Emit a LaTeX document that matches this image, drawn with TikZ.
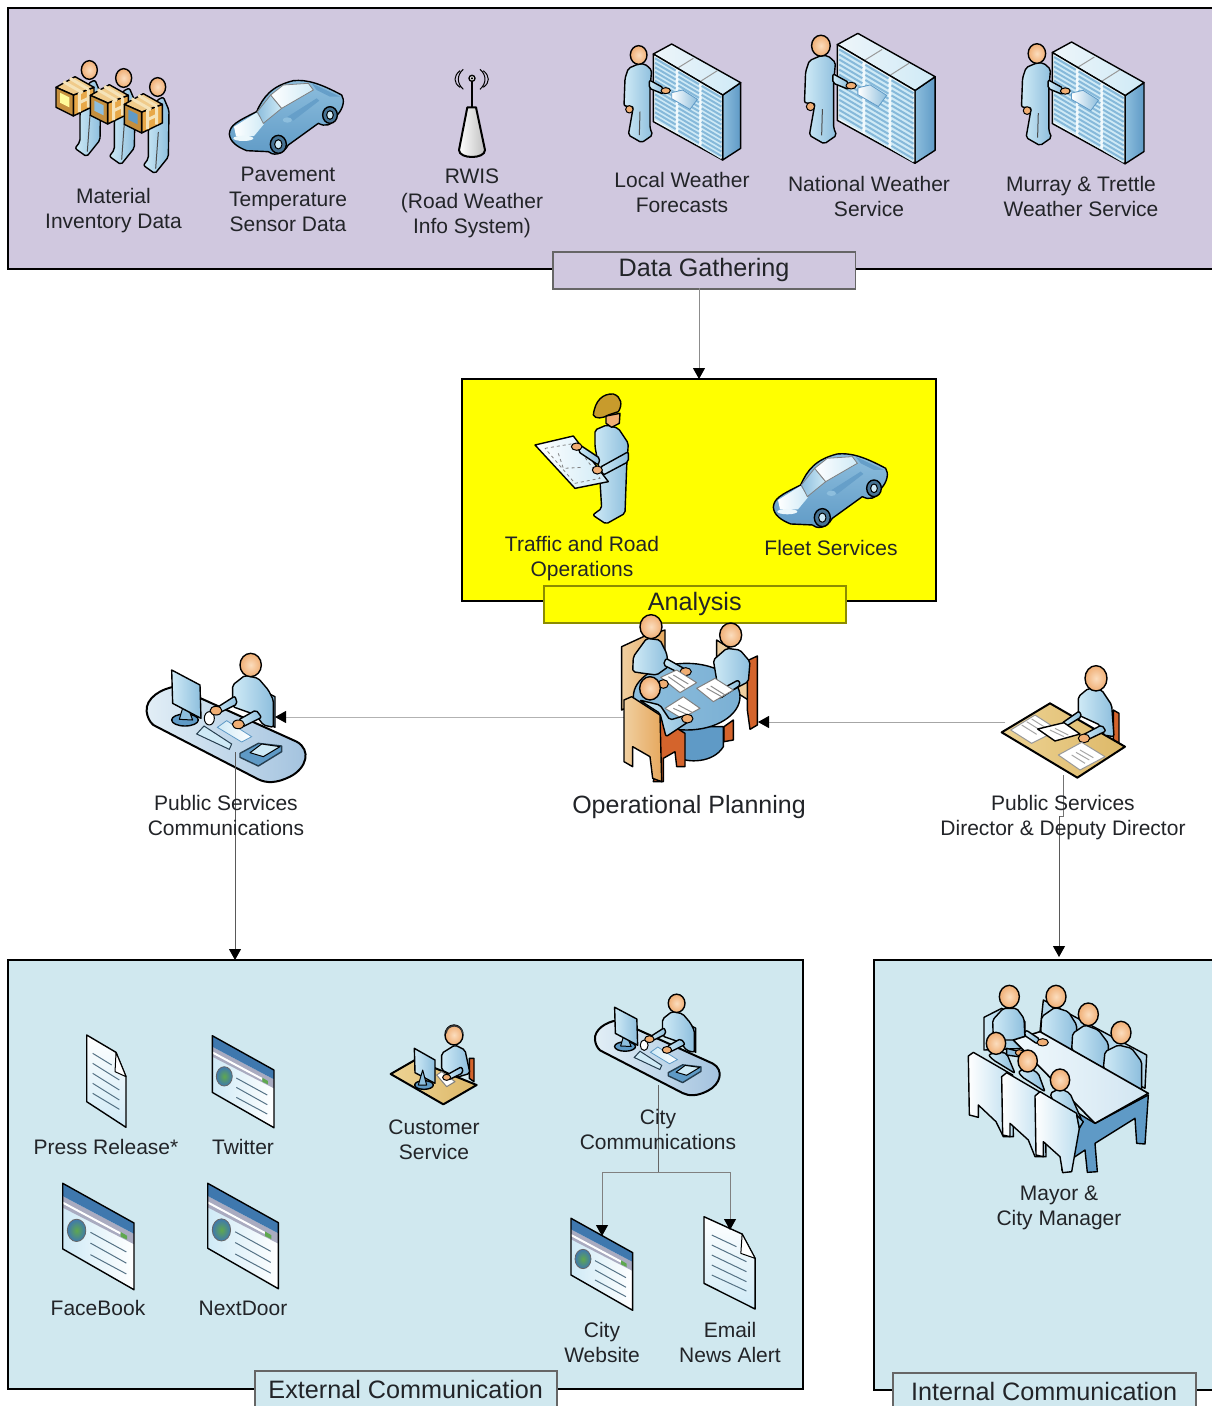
\documentclass[tikz,border=0pt]{standalone}
\usepackage{fontspec}
\setmainfont{Liberation Sans}
\usetikzlibrary{arrows.meta,calc}
\definecolor{txt}{HTML}{222428}
\definecolor{purp}{HTML}{D0C8DF}
\definecolor{skyb}{HTML}{D0E8EF}
\definecolor{yelw}{RGB}{255,255,0}
\definecolor{bdk}{HTML}{5F9AC6}
\definecolor{bmid}{HTML}{8DBEDD}
\definecolor{blt}{HTML}{CFEAF6}
\definecolor{skin}{HTML}{F0AE74}
\definecolor{skinl}{HTML}{FBDDBE}
\definecolor{orgd}{HTML}{D4642C}
\definecolor{orgl}{HTML}{F0CFA0}
\definecolor{orgm}{HTML}{E6A85E}
\definecolor{boxo}{HTML}{E8A848}
\definecolor{tape}{HTML}{F5E3B8}
\definecolor{woodl}{HTML}{EDD394}
\definecolor{woodr}{HTML}{DDB868}
\definecolor{webt}{HTML}{3F78AE}
\definecolor{webg}{HTML}{A9ABC0}
\definecolor{webb}{HTML}{5FA84E}
\definecolor{hardhat}{HTML}{C89B2C}
\tikzset{
 ic/.style={draw=black,line width=1.4pt,line join=round},
 thin ic/.style={draw=black,line width=1pt,line join=round},
 body/.style={ic,left color=blt,right color=bmid,rounded corners=2pt},
 head/.style={ic,inner color=skinl,outer color=skin},
 hand/.style={thin ic,fill=skin},
 frame/.style={draw=black,line width=2.4pt},
 tabbox/.style={draw=#1,line width=1.5pt,anchor=north west,inner sep=0pt,font=\fontsize{25.2}{30}\selectfont,text=txt},
 lbl/.style={font=\fontsize{21}{25}\selectfont,align=center,text=txt,inner sep=0pt},
 conn/.style={draw=#1,line width=1pt,-{Triangle[width=12pt,length=11pt,color=black]}},
 plain/.style={draw=#1,line width=1pt},
}
% ---------- server rack + person (coordinates: crop units)
\newcommand{\RackPerson}[3]{\begin{scope}[shift={(#1,#2)},scale=#3/3]
 \path[ic,left color=bmid,right color=bdk] (368,225)--(422,188)--(422,385)--(368,420)--cycle;
 \path[ic,left color=white!85!bmid,right color=blt] (160,102)--(215,72)--(422,188)--(368,225)--cycle;
 \draw[line width=1pt,draw=black!40] (230,146)--(280,115) (300,185)--(352,152);
 \path[ic,fill=white!70!blt] (160,102)--(368,225)--(368,420)--(160,305)--cycle;
 \foreach \a/\b in {165/227,235/297,305/364}{
  \pgfmathsetmacro{\ta}{102+.591*(\a-160)+5}
  \pgfmathsetmacro{\tb}{102+.591*(\b-160)+5}
  \fill[blt] (\a,\ta)--(\b,\tb)--(\b,\tb+190)--(\a,\ta+190)--cycle;
  \foreach \i in {0,...,13}{
   \draw[bmid!85!bdk,line width=2pt] (\a,\ta+\i*13.5+5)--(\b,\tb+\i*13.5+5);
  }
 }
 \path[line width=.8pt,draw=bdk,left color=white,right color=bmid] (215,218)--(248,210)--(292,238)--(270,268)--(215,236)--cycle;
 \path[body] (115,132)--(85,145)--(75,175)--(72,258)--(100,260)--(85,345)--(125,368)--(158,345)--(150,325)--(150,205)--(155,150)--(135,132)--cycle;
 \draw[black!70,line width=1pt] (120,275)--(118,345);
 \path[body] (148,180)--(190,203)--(190,222)--(148,205)--cycle;
 \path[hand] (197,212) ellipse (14 and 9);
 \path[hand] (88,268) ellipse (11 and 11);
 \path[head] (116,105) ellipse (25 and 28);
\end{scope}}
% ---------- person with box
\newcommand{\BoxPerson}[4]{\begin{scope}[shift={(#1,#2)},scale=1/3]
 \path[body] (#3+195,150)--(#3+212,190)--(#3+210,330)--(#3+170,380)--(#3+135,355)--(#3+150,335)--(#3+150,250)--(#3+175,160)--cycle;
 \draw[black!70,line width=1pt] (#3+180,255)--(#3+172,365);
 \path[head] (#3+178,120) ellipse (24 and 28);
 \path[ic,fill=boxo] (#3+130,195)--(#3+192,172)--(#3+192,228)--(#3+130,258)--cycle;
 \path[ic,fill=tape!60!boxo] (#3+78,172)--(#3+135,140)--(#3+192,172)--(#3+130,195)--cycle;
 \path[ic,fill=boxo!85!black] (#3+78,172)--(#3+130,195)--(#3+130,258)--(#3+78,232)--cycle;
 \fill[#4] (#3+90,188)--(#3+118,202)--(#3+118,232)--(#3+90,218)--cycle;
 \draw[tape,line width=3pt] (#3+148,188)--(#3+148,246) (#3+175,178)--(#3+175,232) (#3+148,218)--(#3+175,205) (#3+100,155)--(#3+158,188) (#3+120,145)--(#3+175,178);
\end{scope}}
% ---------- car
\newcommand{\CarIcon}[2]{\begin{scope}[shift={(#1,#2)},scale=1/3]
 \path[ic,top color=bmid,bottom color=bdk] (598,312) .. controls (600,285) and (620,275) .. (680,245) .. controls (700,200) and (725,168) .. (790,152) .. controls (830,148) and (870,160) .. (935,195) .. controls (945,210) and (940,235) .. (922,255) .. controls (905,290) and (885,290) .. (865,280) -- (775,345) .. controls (755,380) and (725,375) .. (715,365) -- (650,362) .. controls (620,350) and (600,335) .. (598,312) --cycle;
 \path[left color=white,right color=blt] (612,290)--(680,248)--(702,282)--(672,318)--(618,318)--cycle;
 \path[draw=black!50,line width=.8pt,left color=bmid,right color=blt] (682,245)--(722,195)--(755,235)--(700,280)--cycle;
 \path[draw=black!50,line width=.8pt,left color=white,right color=blt] (722,195)--(760,165)--(835,160)--(850,180)--(755,235)--cycle;
 \path[fill=bdk!85!bmid] (770,262)--(860,205)--(868,212)--(790,272)--cycle;
 \path[fill=bdk!85!bmid] (845,160)--(930,200)--(900,200)--(860,180)--cycle;
 \fill[white!60!blt] (640,325) ellipse (30 and 8);
 \path[fill=bmid] (772,270) ellipse (14 and 8);
 \path[ic,fill=black!25!bdk] (745,343) ellipse (24 and 27);
 \path[thin ic,fill=blt] (745,343) ellipse (11 and 14);
 \path[ic,fill=black!25!bdk] (900,255) ellipse (22 and 25);
 \path[thin ic,fill=blt] (900,255) ellipse (10 and 13);
\end{scope}}
% ---------- web page
\newcommand{\WebIcon}[3]{\begin{scope}[shift={(#1,#2)},scale=#3/3]
 \path[left color=blt,right color=white] (0,0)--(185,103)--(185,276)--(0,170)--cycle;
 \fill[webg] (0,33)--(185,131)--(185,158)--(0,63)--cycle;
 \fill[webt] (0,0)--(185,103)--(185,131)--(0,33)--cycle;
 \draw[white,line width=2pt] (0,50)--(150,130);
 \fill[webb] (150,126)--(167,136)--(167,146)--(150,138)--cycle;
 \path[draw=black!60,line width=.8pt,inner color=webb,outer color=webt] (36,122) ellipse (24 and 29);
 \draw[black!40!bmid,line width=1pt] (72,127)--(165,178) (72,155)--(165,207) (72,185)--(165,235);
 \path[ic] (0,0)--(185,103)--(185,276)--(0,170)--cycle;
\end{scope}}
% ---------- document
\newcommand{\DocIcon}[3]{\begin{scope}[shift={(#1,#2)},xscale=#3/3,yscale=1/3]
 \path[ic,top color=white,bottom color=blt] (0,0)--(88,52)--(118,125)--(118,277)--(0,200)--cycle;
 \path[thin ic,fill=white] (88,52)--(85,110)--(118,125)--cycle;
 \draw[black!40!bmid,line width=1pt] (18,55)--(75,90) (18,85)--(98,135) (18,115)--(98,165) (18,145)--(98,195) (18,175)--(98,223);
\end{scope}}
% ---------- capsule desk
\newcommand{\DeskIcon}[3]{\begin{scope}[shift={(#1,#2)},scale=#3/3]
 \path[ic,line width=2pt,left color=white!75!bmid,right color=bmid!70!purp] (50,215) .. controls (45,175) and (95,145) .. (135,140) -- (500,305) .. controls (545,330) and (530,385) .. (480,410) .. controls (440,430) and (410,430) .. (385,418) -- (70,255) .. controls (58,245) and (52,230) .. (50,215) --cycle;
 \path[ic,fill=bmid] (415,160)--(435,170)--(435,262)--(415,250)--cycle;
 \path[ic,fill=bdk] (165,240) ellipse (40 and 18);
 \path[thin ic,fill=bmid] (148,238)--(165,180)--(188,240)--cycle;
 \path[ic,left color=blt,right color=bmid] (125,90)--(210,135)--(213,235)--(128,190)--cycle;
 \path[thin ic,fill=white] (238,235) ellipse (15 and 20);
 \path[body] (308,135)--(345,106)--(385,115)--(415,150)--(430,180)--(430,262)--(400,255)--(378,225)--(308,200)--cycle;
 \path[body] (315,168)--(265,200)--(255,225)--(322,192)--cycle;
 \path[body] (378,210)--(325,240)--(335,262)--(395,232)--cycle;
 \path[hand] (258,212) ellipse (18 and 13);
 \path[head] (362,75) ellipse (32 and 35);
 \path[line width=.8pt,draw=bdk,left color=blt,right color=white] (262,262)--(290,242)--(365,290)--(335,306)--cycle;
 \path[hand] (325,253) ellipse (18 and 13);
 \path[line width=1pt,draw=bdk!40!black,fill=blt] (200,282)--(222,258)--(305,312)--(298,328)--cycle;
 \path[ic,draw=bdk!40!black,fill=bdk] (330,340)--(385,310)--(455,318)--(455,335)--(385,378)--(330,352)--cycle;
 \path[thin ic,fill=blt] (360,338)--(395,312)--(450,320)--(400,350)--cycle;
\end{scope}}
\begin{document}
\begin{tikzpicture}[x=1pt,y=-1pt]
\useasboundingbox (0,0) rectangle (1212,1406);
\fill[white] (0,0) rectangle (1212,1406);
% --- panels
\path[frame,fill=purp] (1230,8) -- (8,8) -- (8,269) -- (1230,269);
\path[frame,fill=yelw] (462,379) rectangle (936,601);
\coordinate (yelN) at (699,379);
\path[frame,fill=skyb] (8,960) rectangle (803,1389);
\path[frame,fill=skyb] (1230,960) -- (874,960) -- (874,1390) -- (1230,1390);
% --- tabs
\node[tabbox=black!60,fill=purp,minimum width=302.5pt,minimum height=37pt] (dg) at (552,251) {\raisebox{-3pt}{Data Gathering}};
\node[tabbox=black!45!yelw,fill=yelw,minimum width=302pt,minimum height=37pt] (an) at (543,585) {\raisebox{2pt}{Analysis}};
\node[tabbox=black!60,fill=skyb,minimum width=302pt,minimum height=50pt] (ext) at (254,1370) {\raisebox{13pt}{External Communication}};
\node[tabbox=black!60,fill=skyb,minimum width=303pt,minimum height=50pt] (int) at (892,1372) {\raisebox{13pt}{Internal Communication}};
% --- anchor coordinates for connectors
\coordinate (dgOut) at (699,288);
\coordinate (meetL) at (624,717);
\coordinate (commR) at (275,717);
\coordinate (dirL) at (1005,722);
\coordinate (meetR) at (758,722);
\coordinate (commD) at (235,752);
\coordinate (extIn) at (235,960);
\coordinate (dirD) at (1063,775);
\coordinate (dirJ) at (1059,816);
\coordinate (intIn) at (1059,957);
\coordinate (cityD) at (658,1085);
\coordinate (cityJ) at (658,1172);
\coordinate (webIn) at (602,1236);
\coordinate (mailIn) at (730,1230);
% --- connectors under icons
\draw[conn=black!45] (dgOut) -- (yelN);
\draw[conn=black!30] (meetL) -- (commR);
\draw[conn=black!35] (dirL) -- (meetR);
% --- icons: top row
\BoxPerson{30}{30}{0}{yellow!40!white}
\BoxPerson{30}{38}{103}{bmid}
\BoxPerson{30}{47}{205}{bdk}
\CarIcon{30}{30}
\begin{scope}[shift={(30,30)},scale=1/3]
 \draw[ic,line width=1pt] (1300,118) .. controls (1280,135) and (1280,160) .. (1300,178) (1290,122) .. controls (1270,138) and (1270,158) .. (1290,172);
 \draw[ic,line width=1pt] (1350,118) .. controls (1370,135) and (1370,160) .. (1350,178) (1360,122) .. controls (1380,138) and (1380,158) .. (1360,172);
 \draw[ic,line width=2pt] (1326,145)--(1326,235);
 \path[ic,fill=white] (1326,145) circle (9);
 \fill[black] (1326,145) circle (4);
 \path[ic,line width=2pt,left color=white,right color=black!25] (1312,232)--(1338,232)--(1365,360) .. controls (1365,388) and (1287,388) .. (1287,360) --cycle;
\end{scope}
\RackPerson{600}{20}{1}
\RackPerson{777.6}{6.5}{1.12}
\RackPerson{996.3}{16.8}{1.05}
% --- engineer
\begin{scope}[shift={(500,380)},scale=1/3]
 \path[body] (285,150)--(320,135)--(355,145)--(385,190)--(380,260)--(375,400)--(318,432)--(278,405)--(305,385)--(298,270)--(285,200)--cycle;
 \path[ic,left color=white,right color=blt] (105,195)--(220,168)--(325,305)--(225,325)--cycle;
 \draw[black!50,line width=.8pt,dashed] (135,205)--(225,190)--(300,295)--(225,310)--cycle (175,220)--(190,265)--(250,262);
 \path[body] (240,195)--(300,235)--(295,255)--(235,215)--cycle;
 \path[body] (300,262)--(385,215)--(385,245)--(310,285)--cycle;
 \path[hand] (230,200) ellipse (16 and 11);
 \path[hand] (292,270) ellipse (15 and 12);
 \path[ic,fill=skin] (318,108)--(360,100)--(358,130)--(335,142)--(318,130)--cycle;
 \path[ic,fill=hardhat] (280,105) .. controls (285,60) and (310,40) .. (340,42) .. controls (365,50) and (368,75) .. (355,95) -- (325,105) .. controls (310,115) and (285,118) .. (280,105) --cycle;
\end{scope}
\CarIcon{574}{403.3}
% --- round table meeting
\begin{scope}[shift={(500,380)},scale=1/3]
 \path[ic,left color=orgl,right color=orgm] (365,800)--(430,770)--(495,750)--(495,880)--(430,960)--(365,990)--cycle;
 \path[ic,fill=orgl] (650,780)--(745,840)--(745,960)--(650,900)--cycle;
 \path[ic,fill=orgd] (742,842)--(772,828)--(772,1035)--(750,1048)--(742,990)--cycle;
 \path[ic,fill=orgd] (672,1040)--(700,1020)--(700,1080)--(672,1085)--cycle;
 \path[ic,fill=bdk] (500,1040)--(670,1040)--(670,1100) .. controls (640,1150) and (560,1150) .. (530,1130) --cycle;
 \path[ic,left color=bmid,right color=bmid!60!bdk] (560,950) ellipse (160 and 100);
 \path[body] (400,830)--(440,775)--(480,780)--(500,820)--(505,860)--(470,885)--(430,880)--(398,875)--cycle;
 \path[body] (498,835)--(560,870)--(550,885)--(490,855)--cycle;
 \path[hand] (557,875) ellipse (17 and 12);
 \path[head] (453,740) ellipse (33 and 36);
 \path[body] (640,840)--(680,805)--(720,810)--(750,845)--(745,905)--(660,950)--(650,900)--cycle;
 \path[body] (650,935)--(715,900)--(722,915)--(660,955)--cycle;
 \path[hand] (655,942) ellipse (17 and 13);
 \path[head] (692,765) ellipse (33 and 36);
 \path[thin ic,draw=black!50,fill=white] (482,892)--(530,870)--(590,908)--(540,938)--cycle;
 \path[thin ic,draw=black!50,fill=white] (590,925)--(645,895)--(700,930)--(640,965)--cycle;
 \path[thin ic,draw=black!50,fill=white] (495,985)--(550,950)--(600,985)--(545,1015)--cycle;
 \draw[black!45,line width=1pt] (505,890)--(555,925) (520,885)--(565,912) (620,925)--(665,950) (632,918)--(675,945) (520,985)--(565,1005) (535,975)--(578,998);
 \path[ic,fill=orgd] (478,1012)--(555,1060)--(555,1160)--(530,1160)--(525,1115)--(490,1135)--(490,1205)--(460,1205)--(478,1100)--cycle;
 \path[ic,left color=orgl,right color=orgm] (372,960)--(395,950)--(480,1005)--(485,1205)--(458,1195)--(450,1130)--(398,1100)--(398,1160)--(372,1145)--cycle;
 \path[body] (418,960)--(480,975)--(510,1020)--(560,1005)--(570,1022)--(498,1070)--(480,1000)--cycle;
 \path[hand] (562,1016) ellipse (17 and 13);
 \path[hand] (490,912) ellipse (15 and 13);
 \path[head] (450,925) ellipse (31 and 35);
\end{scope}
% --- comm desk
\DeskIcon{130}{640}{1}
% --- director desk
\begin{scope}[shift={(990,655)},scale=1/3]
 \path[ic,fill=orgd] (370,165)--(387,175)--(387,265)--(370,255)--cycle;
 \path[ic,line width=2pt,left color=woodl,right color=woodr] (35,232)--(180,145)--(405,275)--(262,368)--cycle;
 \path[thin ic,draw=black!40,fill=white] (62,225)--(135,180)--(205,225)--(125,265)--cycle;
 \draw[black!35,line width=1pt] (95,210)--(140,238) (110,200)--(155,228) (125,192)--(170,220);
 \path[body] (265,125)--(295,100)--(335,105)--(365,150)--(372,245)--(340,240)--(330,210)--(265,180)--cycle;
 \path[body] (268,168)--(215,205)--(222,218)--(275,185)--cycle;
 \path[ic,fill=white] (143,222)--(222,203)--(270,237)--(195,258)--cycle;
 \draw[black!35,line width=1pt] (180,225)--(222,245) (195,220)--(235,240);
 \path[body] (335,210)--(278,240)--(285,258)--(348,228)--cycle;
 \path[hand] (282,250) ellipse (17 and 13);
 \path[head] (318,70) ellipse (33 and 38);
 \path[thin ic,draw=black!40,fill=white] (205,300)--(275,262)--(345,305)--(270,345)--cycle;
 \draw[black!35,line width=1pt] (245,300)--(285,325) (258,292)--(298,315) (270,285)--(310,308);
\end{scope}
% --- external panel icons
\DocIcon{86.7}{1035}{1}
\WebIcon{212.3}{1035.7}{1}
\WebIcon{62.7}{1183.3}{1.157}
\WebIcon{207.7}{1183.3}{1.146}
% customer service
\begin{scope}[shift={(380,990)},scale=1/3]
 \path[ic,fill=orgd] (268,205)--(282,205)--(282,275)--(268,265)--cycle;
 \path[ic,line width=2pt,left color=woodl,right color=woodr] (32,252)--(105,210)--(290,285)--(190,343)--cycle;
 \path[body] (185,190)--(225,165)--(255,180)--(270,250)--(230,262)--(185,240)--cycle;
 \path[head] (222,135) ellipse (27 and 30);
 \draw[black!80,line width=1.6pt] (198,130) .. controls (200,100) and (245,100) .. (248,130);
 \path[thin ic,draw=black!50,fill=white] (170,255)--(185,245)--(225,275)--(200,290)--cycle;
 \path[body] (245,230)--(200,255)--(205,270)--(250,248)--cycle;
 \path[hand] (200,262) ellipse (12 and 9);
 \path[ic,fill=bdk] (132,285) ellipse (28 and 13);
 \path[ic,left color=blt,right color=bmid] (103,175)--(165,210)--(165,280)--(105,248)--cycle;
 \path[thin ic,fill=bmid] (115,285)--(128,240)--(140,285)--cycle;
\end{scope}
\DeskIcon{581.9}{983.7}{.785}
\WebIcon{571}{1218.3}{1}
\DocIcon{704}{1216.7}{1.3}
% --- mayor conference
\begin{scope}[shift={(960,980)},scale=1/3]
 \path[ic,fill=blt!60!bmid] (250,60)--(560,225)--(555,325)--(240,155)--cycle;
 \path[ic,left color=blt,right color=bmid] (72,112)--(125,85)--(195,125)--(195,205)--(72,210)--cycle;
 \path[body] (98,120)--(130,85)--(170,85)--(192,115)--(195,180)--(100,180)--cycle;
 \path[head] (148,50) ellipse (30 and 34);
 \path[body] (242,160)--(245,110)--(285,82)--(325,95)--(350,135)--(350,235)--cycle;
 \path[head] (288,50) ellipse (30 and 34);
 \path[body] (335,210)--(338,160)--(375,135)--(415,150)--(445,190)--(445,290)--cycle;
 \path[head] (385,103) ellipse (30 and 34);
 \path[body] (430,265)--(435,215)--(475,195)--(515,205)--(545,245)--(545,340)--cycle;
 \path[head] (483,158) ellipse (30 and 34);
 \path[ic,fill=bdk] (355,400)--(405,430)--(565,345)--(555,492)--(530,490)--(525,415)--(405,490)--(412,575)--(382,577)--(375,510)--(330,540)--(330,575)--(305,570)--cycle;
 \path[ic,line width=1.6pt,left color=white!70!blt,right color=bmid!40!white] (160,180)--(240,155)--(565,340)--(405,430)--cycle;
 \path[body] (198,150)--(240,178)--(232,192)--(192,165)--cycle;
 \path[hand] (248,187) ellipse (17 and 11);
 \path[body] (85,225)--(110,215)--(140,220)--(165,280)--(100,240)--cycle;
 \path[head] (108,190) ellipse (29 and 33);
 \path[ic,fill=bmid] (140,205)--(180,215)--(175,230)--(140,225)--cycle;
 \path[hand] (178,218) ellipse (12 and 9);
 \path[ic,left color=white,right color=blt!70!bmid] (25,228)--(40,217)--(158,285)--(160,470)--(130,470)--(108,425)--(55,375)--(55,412)--(28,405)--cycle;
 \path[body] (175,275)--(205,262)--(235,280)--(255,335)--(185,290)--cycle;
 \path[head] (203,243) ellipse (29 and 33);
 \path[ic,left color=white,right color=blt!70!bmid] (125,290)--(140,278)--(255,345)--(258,530)--(225,530)--(205,480)--(150,430)--(150,470)--(128,465)--cycle;
 \path[body] (270,340)--(300,325)--(330,340)--(365,420)--(280,365)--cycle;
 \path[head] (300,300) ellipse (29 and 33);
 \path[ic,left color=white,right color=blt!70!bmid] (225,348)--(240,335)--(350,400)--(358,445)--(335,575)--(308,578)--(300,530)--(250,485)--(250,530)--(228,525)--cycle;
 \path[ic,fill=bmid] (350,405)--(370,425)--(358,445)--cycle;
\end{scope}
% --- connectors over icons
\draw[conn=black!65] (commD) -- (extIn);
\draw[plain=black!55] (dirD) -- (dirJ -| dirD) -- (dirJ);
\draw[conn=black!65] (dirJ) -- (intIn);
\draw[plain=black!60] (cityD) -- (cityJ);
\draw[conn=black!50] (cityJ) -| (webIn);
\draw[conn=black!50] (cityJ) -| (mailIn);
% --- labels
\node[lbl] (l1) at (113.5,210.5) {Material\\Inventory Data};
\node[lbl] (l2) at (288,199) {Pavement\\Temperature\\Sensor Data};
\node[lbl] (l3) at (472,203) {RWIS\\(Road Weather\\Info System)};
\node[lbl] (l4) at (682,192) {Local Weather\\Forecasts};
\node[lbl] (l5) at (869,196) {National Weather\\Service};
\node[lbl] (l6) at (1081,196) {Murray \& Trettle\\Weather Service};
\node[lbl] (l7) at (582,559) {Traffic and Road\\Operations};
\node[lbl] (l8) at (831,548) {Fleet Services};
\node[lbl] (l9) at (226,815) {Public Services\\Communications};
\node[lbl,font=\fontsize{25}{30}\selectfont] (l10) at (689,807) {Operational Planning};
\node[lbl] (l11) at (1063,818) {Public Services\\Director \& Deputy Director};
\node[lbl] (l12) at (106,1147) {Press Release*};
\node[lbl] (l13) at (243,1147) {Twitter};
\node[lbl] (l14) at (98,1308) {FaceBook};
\node[lbl] (l15) at (243,1308) {NextDoor};
\node[lbl] (l16) at (434,1140) {Customer\\Service};
\node[lbl] (l17) at (658,1129) {City\\Communications};
\node[lbl] (l18) at (1059,1208) {Mayor \&\\City Manager};
\node[lbl] (l19) at (602,1342) {City\\Website};
\node[lbl] (l20) at (730,1342) {Email\\News Alert};
\end{tikzpicture}
\end{document}
